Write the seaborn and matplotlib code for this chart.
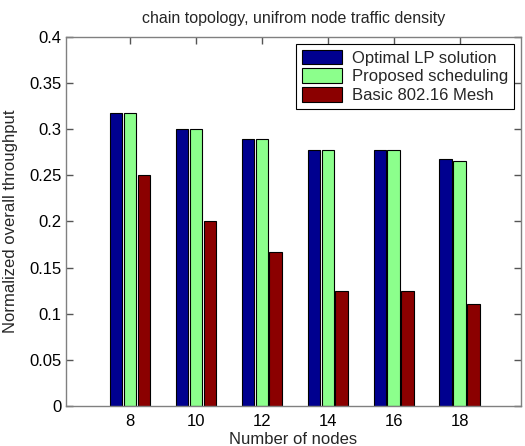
import matplotlib
matplotlib.use("Agg")
import matplotlib.pyplot as plt
import seaborn as sns
import pandas as pd

nodes = [8, 10, 12, 14, 16, 18]
optimal_lp = [0.318, 0.300, 0.289, 0.278, 0.278, 0.268]
proposed = [0.318, 0.300, 0.289, 0.278, 0.278, 0.266]
basic_mesh = [0.250, 0.200, 0.167, 0.125, 0.125, 0.111]
series_names = ["Optimal LP solution", "Proposed scheduling", "Basic 802.16 Mesh"]
colors = ["#00008F", "#8CFF8C", "#8B0000"]

rows = []
for name, vals in zip(series_names, [optimal_lp, proposed, basic_mesh]):
    for n, v in zip(nodes, vals):
        rows.append({"nodes": n, "throughput": v, "scheme": name})
df = pd.DataFrame(rows)

sns.set_style("white")
plt.rcParams['font.family'] = ['Liberation Sans', 'DejaVu Sans']

fig = plt.figure(figsize=(5.25, 4.46), dpi=100)
ax = fig.add_axes([0.126, 0.090, 0.866, 0.827])
sns.barplot(data=df, x="nodes", y="throughput", hue="scheme",
            hue_order=series_names, palette=colors, width=0.63, gap=0.1,
            edgecolor="black", linewidth=0.8, saturation=1, ax=ax)

ax.set_xlim(-0.97, 5.93)
ax.set_ylim(0, 0.4)
ax.set_yticks([0, 0.05, 0.1, 0.15, 0.2, 0.25, 0.3, 0.35, 0.4])
ax.set_yticklabels(["0", "0.05", "0.1", "0.15", "0.2", "0.25", "0.3", "0.35", "0.4"])
ax.tick_params(direction="in", bottom=True, left=True, top=True, right=True,
               length=5, width=1, color="#555555", labelcolor="black", labelsize=12)
ax.tick_params(axis="x", pad=6)
for s in ax.spines.values():
    s.set_visible(True)
    s.set_color("#808080")
    s.set_linewidth(1)

ax.set_title("chain topology, unifrom node traffic density", fontsize=11.5, pad=10)
ax.set_xlabel("Number of nodes", fontsize=12, labelpad=2)
ax.set_ylabel("Normalized overall throughput", fontsize=12, labelpad=8)

leg = ax.legend(loc="upper right", fontsize=12, frameon=True, fancybox=False,
                edgecolor="black", framealpha=1, borderaxespad=0.4,
                handlelength=2.4, handleheight=1.0, labelspacing=0.15,
                borderpad=0.35, handletextpad=0.6)
leg.get_frame().set_linewidth(0.8)

fig.savefig("out.png", dpi=100)
plt.close(fig)
